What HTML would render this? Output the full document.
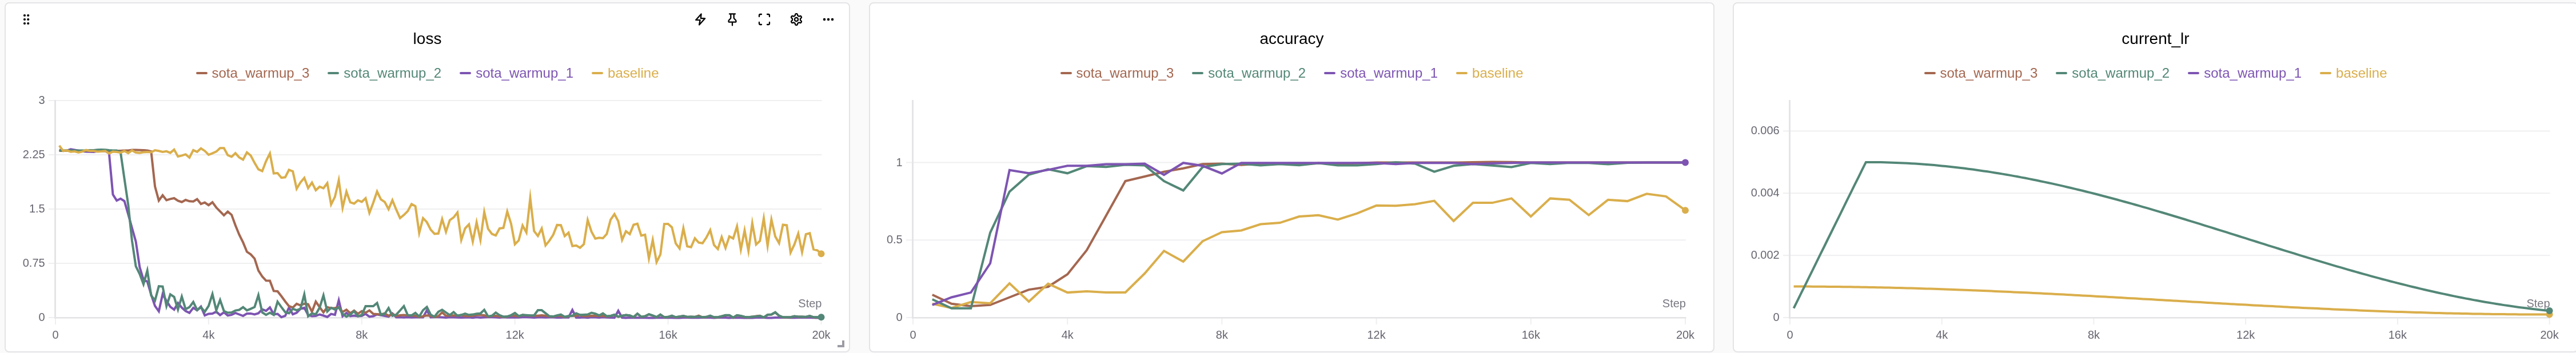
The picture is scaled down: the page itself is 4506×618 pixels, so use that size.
<!DOCTYPE html>
<html><head><meta charset="utf-8"><title>charts</title>
<style>
html,body{margin:0;padding:0}
body{width:4506px;height:618px;overflow:hidden;background:#fafafa;position:relative;font-family:"Liberation Sans",Arial,Helvetica,sans-serif}
.panel{will-change:transform;position:absolute;top:4px;width:1479px;height:613px;box-sizing:border-box;border:2px solid #e4e4e7;border-radius:8px;background:#fff}
.title{position:absolute;left:0;right:0;top:45px;height:34px;line-height:34px;text-align:center;font-size:28px;color:#000}
.legend{position:absolute;left:0;right:0;top:106px;height:32px;display:flex;justify-content:center;align-items:center;font-size:24px;line-height:32px;white-space:nowrap}
.li{display:inline-flex;align-items:center;margin:0 16.05px}
.li i{display:inline-block;width:20px;height:4px;border-radius:2px;margin-right:8px}
svg.ch{position:absolute;left:0;top:0;overflow:visible}
.tk{font-family:"Liberation Sans",Arial,Helvetica,sans-serif;font-size:20px;fill:#666671}
.st{fill:#777781}
svg.ov{position:absolute;left:0;top:0;will-change:transform}
</style></head><body>
<div class="panel" style="left:8px">
<div class="title">loss</div>
<div class="legend"><span class="li" style="color:#A46750"><i style="background:#A46750"></i>sota_warmup_3</span><span class="li" style="color:#538777"><i style="background:#538777"></i>sota_warmup_2</span><span class="li" style="color:#7D54B2"><i style="background:#7D54B2"></i>sota_warmup_1</span><span class="li" style="color:#DAAE4B"><i style="background:#DAAE4B"></i>baseline</span></div>
</div>
<div class="panel" style="left:1519.5px">
<div class="title">accuracy</div>
<div class="legend"><span class="li" style="color:#A46750"><i style="background:#A46750"></i>sota_warmup_3</span><span class="li" style="color:#538777"><i style="background:#538777"></i>sota_warmup_2</span><span class="li" style="color:#7D54B2"><i style="background:#7D54B2"></i>sota_warmup_1</span><span class="li" style="color:#DAAE4B"><i style="background:#DAAE4B"></i>baseline</span></div>
</div>
<div class="panel" style="left:3031px">
<div class="title">current_lr</div>
<div class="legend"><span class="li" style="color:#A46750"><i style="background:#A46750"></i>sota_warmup_3</span><span class="li" style="color:#538777"><i style="background:#538777"></i>sota_warmup_2</span><span class="li" style="color:#7D54B2"><i style="background:#7D54B2"></i>sota_warmup_1</span><span class="li" style="color:#DAAE4B"><i style="background:#DAAE4B"></i>baseline</span></div>
</div>
<svg class="ov" width="4506" height="618" viewBox="0 0 4506 618">
<rect x="85.0" y="175.0" width="1352.5" height="2" fill="#efeff1"/>
<text x="78.7" y="182.0" text-anchor="end" class="tk">3</text>
<rect x="85.0" y="270.0" width="1352.5" height="2" fill="#efeff1"/>
<text x="78.7" y="277.0" text-anchor="end" class="tk">2.25</text>
<rect x="85.0" y="365.0" width="1352.5" height="2" fill="#efeff1"/>
<text x="78.7" y="372.0" text-anchor="end" class="tk">1.5</text>
<rect x="85.0" y="460.0" width="1352.5" height="2" fill="#efeff1"/>
<text x="78.7" y="467.0" text-anchor="end" class="tk">0.75</text>
<rect x="85.0" y="555.0" width="12" height="2" fill="#efeff1"/>
<text x="78.7" y="562.0" text-anchor="end" class="tk">0</text>
<rect x="96.00" y="556" width="2" height="12" fill="#efeff1"/>
<text x="97.00" y="593" text-anchor="middle" class="tk">0</text>
<rect x="363.90" y="556" width="2" height="12" fill="#efeff1"/>
<text x="364.90" y="593" text-anchor="middle" class="tk">4k</text>
<rect x="631.80" y="556" width="2" height="12" fill="#efeff1"/>
<text x="632.80" y="593" text-anchor="middle" class="tk">8k</text>
<rect x="899.70" y="556" width="2" height="12" fill="#efeff1"/>
<text x="900.70" y="593" text-anchor="middle" class="tk">12k</text>
<rect x="1167.60" y="556" width="2" height="12" fill="#efeff1"/>
<text x="1168.60" y="593" text-anchor="middle" class="tk">16k</text>
<rect x="1435.50" y="556" width="2" height="12" fill="#efeff1"/>
<text x="1436.50" y="593" text-anchor="middle" class="tk">20k</text>
<rect x="95.1" y="175" width="2.9" height="382.6" fill="#e4e4e7"/>
<rect x="95.1" y="555" width="1342.9" height="2.6" fill="#e4e4e7"/>
<text x="1437.5" y="538" text-anchor="end" class="tk st">Step</text>
<path d="M103.7 262.5 L110.4 264.2 L117.1 263.6 L123.8 261.3 L130.5 262.5 L137.2 263.6 L143.9 264.8 L150.6 265.4 L157.3 265.7 L164.0 266.0 L170.7 264.8 L177.4 264.6 L184.1 264.3 L190.8 268.3 L197.5 340.7 L204.2 351.2 L210.9 347.8 L217.6 352.0 L224.3 375.2 L230.9 399.0 L237.6 422.8 L244.3 467.6 L251.0 489.9 L257.7 493.0 L264.4 515.8 L271.1 535.6 L277.8 544.9 L284.5 515.0 L291.2 526.7 L297.9 537.2 L304.6 542.1 L311.3 530.4 L318.0 538.6 L324.7 544.5 L331.4 547.7 L338.1 538.9 L344.8 543.3 L351.5 536.8 L358.2 552.2 L364.9 549.5 L371.6 549.1 L378.3 545.7 L385.0 551.6 L391.7 546.8 L398.4 552.4 L405.1 551.1 L411.8 548.0 L418.5 550.5 L425.2 553.0 L431.9 549.1 L438.6 548.9 L445.3 550.5 L452.0 548.5 L458.7 541.7 L465.4 544.2 L472.1 538.2 L478.8 550.3 L485.5 549.6 L492.2 555.3 L498.9 553.0 L505.5 538.5 L512.2 550.2 L518.9 547.5 L525.6 540.6 L532.3 538.8 L539.0 551.4 L545.7 553.5 L552.4 553.1 L559.1 550.5 L565.8 552.5 L572.5 554.9 L579.2 549.6 L585.9 551.2 L592.6 525.7 L599.3 553.6 L606.0 547.8 L612.7 553.4 L619.4 552.5 L626.1 553.5 L632.8 553.1 L639.5 549.6 L646.2 554.4 L652.9 553.5 L659.6 550.5 L666.3 551.9 L673.0 553.1 L679.7 554.4 L686.4 548.7 L693.1 555.4 L699.8 555.3 L706.5 555.8 L713.2 555.2 L719.9 555.7 L726.6 555.5 L733.3 555.2 L740.0 555.5 L746.7 543.3 L753.4 555.5 L760.1 555.2 L766.8 555.2 L773.4 555.6 L780.1 556.0 L786.8 555.3 L793.5 555.4 L800.2 555.8 L806.9 556.1 L813.6 555.7 L820.3 555.6 L827.0 556.2 L833.7 555.2 L840.4 556.0 L847.1 555.4 L853.8 555.3 L860.5 555.3 L867.2 555.5 L873.9 556.0 L880.6 555.3 L887.3 555.8 L894.0 555.8 L900.7 555.5 L907.4 555.7 L914.1 555.2 L920.8 555.2 L927.5 555.4 L934.2 555.9 L940.9 555.6 L947.6 555.5 L954.3 555.8 L961.0 555.6 L967.7 555.5 L974.4 556.0 L981.1 555.9 L987.8 555.4 L994.5 555.6 L1001.2 542.6 L1007.9 555.9 L1014.6 555.9 L1021.3 555.4 L1028.0 556.2 L1034.7 555.3 L1041.3 555.6 L1048.0 555.9 L1054.7 555.3 L1061.4 555.7 L1068.1 555.9 L1074.8 556.2 L1081.5 544.2 L1088.2 556.1 L1094.9 556.5 L1101.6 556.1 L1108.3 556.3 L1115.0 556.3 L1121.7 556.2 L1128.4 556.2 L1135.1 556.4 L1141.8 556.5 L1148.5 556.2 L1155.2 556.3 L1161.9 555.9 L1168.6 556.3 L1175.3 556.3 L1182.0 556.5 L1188.7 556.4 L1195.4 556.0 L1202.1 556.1 L1208.8 556.3 L1215.5 555.9 L1222.2 556.2 L1228.9 556.0 L1235.6 555.9 L1242.3 555.9 L1249.0 556.4 L1255.7 555.9 L1262.4 556.0 L1269.1 556.1 L1275.8 556.5 L1282.5 555.9 L1289.2 556.2 L1295.9 556.2 L1302.5 556.5 L1309.2 556.4 L1315.9 556.4 L1322.6 556.0 L1329.3 556.1 L1336.0 556.1 L1342.7 556.5 L1349.4 556.5 L1356.1 555.9 L1362.8 556.0 L1369.5 556.0 L1376.2 556.0 L1382.9 556.2 L1389.6 556.3 L1396.3 556.0 L1403.0 555.8 L1409.7 556.1 L1416.4 556.1 L1423.1 556.2 L1429.8 556.5 L1436.5 556.3" fill="none" stroke="#7D54B2" stroke-width="4" stroke-linejoin="miter" stroke-miterlimit="20"/>
<path d="M103.7 263.9 L110.4 263.9 L117.1 263.9 L123.8 263.9 L130.5 263.9 L137.2 263.9 L143.9 263.9 L150.6 263.9 L157.3 263.9 L164.0 263.9 L170.7 263.9 L177.4 263.9 L184.1 263.9 L190.8 263.9 L197.5 263.9 L204.2 263.9 L210.9 263.9 L217.6 263.5 L224.3 263.5 L230.9 262.5 L237.6 262.5 L244.3 262.7 L251.0 263.1 L257.7 263.4 L264.4 265.2 L271.1 326.4 L277.8 351.2 L284.5 341.8 L291.2 350.5 L297.9 348.4 L304.6 347.0 L311.3 351.4 L318.0 353.7 L324.7 350.0 L331.4 352.3 L338.1 352.8 L344.8 348.7 L351.5 357.1 L358.2 354.5 L364.9 359.2 L371.6 354.1 L378.3 363.3 L385.0 370.1 L391.7 376.9 L398.4 370.4 L405.1 376.1 L411.8 394.5 L418.5 410.9 L425.2 424.4 L431.9 440.8 L438.6 445.3 L445.3 452.7 L452.0 473.6 L458.7 484.0 L465.4 491.3 L472.1 491.5 L478.8 509.4 L485.5 509.9 L492.2 518.5 L498.9 527.7 L505.5 536.0 L512.2 538.4 L518.9 531.8 L525.6 534.6 L532.3 531.7 L539.0 532.7 L545.7 545.8 L552.4 528.0 L559.1 537.6 L565.8 546.8 L572.5 537.8 L579.2 539.6 L585.9 539.2 L592.6 537.7 L599.3 546.2 L606.0 542.2 L612.7 548.3 L619.4 543.8 L626.1 549.3 L632.8 544.7 L639.5 547.4 L646.2 543.4 L652.9 549.5 L659.6 549.9 L666.3 550.5 L673.0 548.6 L679.7 552.9 L686.4 549.6 L693.1 553.2 L699.8 552.0 L706.5 551.6 L713.2 552.2 L719.9 552.5 L726.6 552.7 L733.3 555.1 L740.0 553.6 L746.7 552.3 L753.4 552.7 L760.1 555.1 L766.8 553.5 L773.4 546.9 L780.1 553.0 L786.8 552.2 L793.5 552.3 L800.2 552.7 L806.9 551.6 L813.6 553.3 L820.3 553.2 L827.0 552.7 L833.7 551.6 L840.4 551.6 L847.1 552.0 L853.8 554.4 L860.5 553.0 L867.2 553.0 L873.9 553.7 L880.6 554.8 L887.3 554.4 L894.0 552.2 L900.7 552.7 L907.4 553.9 L914.1 551.6 L920.8 552.2 L927.5 552.7 L934.2 552.7 L940.9 552.7 L947.6 552.0 L954.3 552.8 L961.0 553.9 L967.7 554.4 L974.4 552.7 L981.1 553.1 L987.8 555.1 L994.5 553.6 L1001.2 553.0 L1007.9 552.7 L1014.6 551.6 L1021.3 553.6 L1028.0 553.3 L1034.7 552.8 L1041.3 552.9 L1048.0 552.7 L1054.7 553.0 L1061.4 553.9 L1068.1 553.2 L1074.8 551.2 L1081.5 554.6 L1088.2 552.9 L1094.9 551.6 L1101.6 552.5 L1108.3 555.3 L1115.0 549.3 L1121.7 554.9 L1128.4 553.7 L1135.1 550.3 L1141.8 552.5 L1148.5 555.4 L1155.2 550.9 L1161.9 555.4 L1168.6 555.0 L1175.3 552.9 L1182.0 555.5 L1188.7 554.3 L1195.4 553.2 L1202.1 555.0 L1208.8 554.6 L1215.5 554.9 L1222.2 552.7 L1228.9 555.5 L1235.6 555.0 L1242.3 552.9 L1249.0 555.5 L1255.7 555.5 L1262.4 553.7 L1269.1 552.0 L1275.8 552.0 L1282.5 556.2 L1289.2 552.0 L1295.9 553.2 L1302.5 555.0 L1309.2 555.5 L1315.9 554.6 L1322.6 553.4 L1329.3 552.7 L1336.0 555.9 L1342.7 551.1 L1349.4 550.7 L1356.1 546.9 L1362.8 552.8 L1369.5 555.5 L1376.2 555.5 L1382.9 555.5 L1389.6 553.7 L1396.3 554.6 L1403.0 554.6 L1409.7 555.0 L1416.4 553.2 L1423.1 555.5 L1429.8 555.5 L1436.5 555.5" fill="none" stroke="#A46750" stroke-width="4" stroke-linejoin="miter" stroke-miterlimit="20"/>
<path d="M103.7 263.6 L110.4 263.6 L117.1 263.4 L123.8 263.4 L130.5 263.6 L137.2 263.4 L143.9 263.4 L150.6 263.6 L157.3 263.1 L164.0 263.0 L170.7 262.2 L177.4 261.9 L184.1 262.2 L190.8 263.1 L197.5 263.4 L204.2 263.6 L210.9 266.6 L217.6 313.0 L224.3 358.8 L230.9 421.3 L237.6 466.1 L244.3 479.5 L251.0 497.5 L257.7 473.6 L264.4 517.2 L271.1 526.2 L277.8 501.1 L284.5 501.7 L291.2 535.9 L297.9 515.4 L304.6 519.8 L311.3 542.0 L318.0 519.3 L324.7 541.4 L331.4 537.6 L338.1 528.7 L344.8 542.7 L351.5 537.9 L358.2 545.9 L364.9 535.6 L371.6 514.8 L378.3 543.3 L385.0 525.1 L391.7 544.5 L398.4 547.5 L405.1 547.1 L411.8 543.6 L418.5 542.5 L425.2 537.8 L431.9 543.4 L438.6 540.6 L445.3 537.6 L452.0 516.7 L458.7 547.0 L465.4 551.2 L472.1 547.6 L478.8 551.3 L485.5 528.2 L492.2 537.6 L498.9 546.5 L505.5 548.4 L512.2 540.7 L518.9 543.1 L525.6 540.5 L532.3 515.3 L539.0 553.6 L545.7 548.6 L552.4 550.3 L559.1 538.6 L565.8 517.1 L572.5 545.4 L579.2 538.8 L585.9 541.9 L592.6 538.0 L599.3 549.5 L606.0 554.3 L612.7 550.5 L619.4 545.0 L626.1 553.7 L632.8 551.4 L639.5 536.1 L646.2 536.0 L652.9 536.0 L659.6 530.4 L666.3 551.2 L673.0 549.5 L679.7 539.3 L686.4 552.8 L693.1 550.9 L699.8 543.5 L706.5 536.0 L713.2 551.7 L719.9 552.1 L726.6 547.7 L733.3 554.2 L740.0 543.0 L746.7 537.5 L753.4 550.9 L760.1 554.5 L766.8 545.7 L773.4 542.3 L780.1 547.1 L786.8 551.6 L793.5 546.3 L800.2 552.6 L806.9 551.3 L813.6 549.2 L820.3 551.3 L827.0 550.6 L833.7 549.2 L840.4 548.8 L847.1 542.4 L853.8 553.9 L860.5 552.7 L867.2 547.3 L873.9 551.8 L880.6 554.4 L887.3 554.1 L894.0 551.8 L900.7 547.9 L907.4 553.4 L914.1 551.3 L920.8 551.8 L927.5 552.3 L934.2 552.2 L940.9 543.1 L947.6 543.1 L954.3 548.3 L961.0 553.5 L967.7 554.1 L974.4 552.3 L981.1 550.6 L987.8 554.7 L994.5 553.2 L1001.2 552.7 L1007.9 548.4 L1014.6 551.3 L1021.3 550.9 L1028.0 550.6 L1034.7 547.5 L1041.3 549.2 L1048.0 552.2 L1054.7 548.5 L1061.4 553.5 L1068.1 553.0 L1074.8 551.0 L1081.5 554.4 L1088.2 552.7 L1094.9 551.5 L1101.6 552.3 L1108.3 555.2 L1115.0 549.1 L1121.7 554.7 L1128.4 553.5 L1135.1 550.1 L1141.8 552.3 L1148.5 555.2 L1155.2 550.7 L1161.9 555.3 L1168.6 554.8 L1175.3 552.7 L1182.0 555.3 L1188.7 554.1 L1195.4 553.0 L1202.1 554.8 L1208.8 554.4 L1215.5 554.8 L1222.2 554.1 L1228.9 555.3 L1235.6 554.8 L1242.3 552.7 L1249.0 555.3 L1255.7 555.3 L1262.4 553.6 L1269.1 551.8 L1275.8 551.8 L1282.5 556.0 L1289.2 551.9 L1295.9 553.0 L1302.5 554.8 L1309.2 555.3 L1315.9 554.4 L1322.6 554.1 L1329.3 553.1 L1336.0 555.7 L1342.7 551.0 L1349.4 550.6 L1356.1 546.7 L1362.8 552.7 L1369.5 555.3 L1376.2 555.3 L1382.9 555.3 L1389.6 553.6 L1396.3 554.4 L1403.0 554.4 L1409.7 554.8 L1416.4 553.1 L1423.1 555.3 L1429.8 555.3 L1436.5 555.3" fill="none" stroke="#538777" stroke-width="4" stroke-linejoin="miter" stroke-miterlimit="20"/>
<path d="M103.7 254.9 L110.4 264.1 L117.1 263.4 L123.8 265.7 L130.5 265.0 L137.2 266.9 L143.9 265.4 L150.6 262.7 L157.3 264.2 L164.0 264.2 L170.7 265.4 L177.4 265.0 L184.1 264.3 L190.8 268.7 L197.5 265.4 L204.2 266.0 L210.9 267.1 L217.6 264.3 L224.3 268.1 L230.9 263.2 L237.6 267.1 L244.3 267.7 L251.0 266.5 L257.7 266.0 L264.4 266.5 L271.1 263.1 L277.8 264.2 L284.5 265.9 L291.2 264.8 L297.9 267.6 L304.6 261.9 L311.3 273.9 L318.0 272.4 L324.7 270.2 L331.4 275.9 L338.1 262.8 L344.8 265.8 L351.5 259.8 L358.2 264.2 L364.9 271.0 L371.6 268.3 L378.3 265.4 L385.0 259.3 L391.7 259.3 L398.4 271.7 L405.1 274.5 L411.8 268.2 L418.5 275.6 L425.2 279.4 L431.9 266.9 L438.6 272.3 L445.3 285.1 L452.0 296.4 L458.7 299.6 L465.4 282.1 L472.1 268.6 L478.8 303.6 L485.5 303.0 L492.2 311.2 L498.9 310.3 L505.5 297.3 L512.2 300.0 L518.9 330.5 L525.6 319.3 L532.3 311.4 L539.0 329.3 L545.7 319.7 L552.4 333.0 L559.1 326.9 L565.8 329.5 L572.5 320.7 L579.2 358.0 L585.9 344.6 L592.6 315.6 L599.3 363.7 L606.0 335.5 L612.7 354.1 L619.4 356.4 L626.1 350.7 L632.8 353.4 L639.5 347.1 L646.2 372.6 L652.9 355.0 L659.6 335.3 L666.3 349.1 L673.0 353.6 L679.7 366.3 L686.4 350.5 L693.1 366.9 L699.8 381.8 L706.5 376.3 L713.2 369.6 L719.9 357.2 L726.6 361.1 L733.3 407.8 L740.0 381.9 L746.7 389.0 L753.4 402.1 L760.1 409.4 L766.8 408.8 L773.4 383.6 L780.1 405.8 L786.8 385.4 L793.5 380.6 L800.2 371.9 L806.9 420.0 L813.6 399.8 L820.3 392.8 L827.0 422.9 L833.7 389.3 L840.4 420.0 L847.1 371.1 L853.8 400.6 L860.5 409.5 L867.2 412.2 L873.9 399.9 L880.6 398.9 L887.3 370.3 L894.0 391.7 L900.7 427.6 L907.4 420.8 L914.1 394.8 L920.8 407.0 L927.5 346.8 L934.2 404.4 L940.9 413.1 L947.6 400.1 L954.3 429.5 L961.0 421.4 L967.7 411.0 L974.4 393.9 L981.1 394.2 L987.8 413.2 L994.5 407.4 L1001.2 430.7 L1007.9 429.8 L1014.6 433.7 L1021.3 427.5 L1028.0 385.3 L1034.7 405.6 L1041.3 417.8 L1048.0 416.2 L1054.7 417.0 L1061.4 409.6 L1068.1 384.5 L1074.8 374.9 L1081.5 387.4 L1088.2 420.0 L1094.9 404.9 L1101.6 409.8 L1108.3 393.5 L1115.0 391.6 L1121.7 412.5 L1128.4 411.0 L1135.1 452.5 L1141.8 420.2 L1148.5 458.9 L1155.2 445.5 L1161.9 392.1 L1168.6 392.0 L1175.3 397.9 L1182.0 426.1 L1188.7 434.9 L1195.4 399.6 L1202.1 431.3 L1208.8 432.7 L1215.5 417.1 L1222.2 424.7 L1228.9 425.8 L1235.6 415.8 L1242.3 402.9 L1249.0 428.9 L1255.7 436.0 L1262.4 415.0 L1269.1 434.0 L1275.8 413.9 L1282.5 417.6 L1289.2 396.4 L1295.9 436.8 L1302.5 403.3 L1309.2 439.3 L1315.9 390.7 L1322.6 428.1 L1329.3 421.8 L1336.0 382.3 L1342.7 430.4 L1349.4 384.4 L1356.1 414.1 L1362.8 425.8 L1369.5 393.5 L1376.2 394.4 L1382.9 442.1 L1389.6 427.9 L1396.3 408.9 L1403.0 441.3 L1409.7 410.1 L1416.4 408.3 L1423.1 436.7 L1429.8 438.3 L1436.5 444.3" fill="none" stroke="#DAAE4B" stroke-width="4" stroke-linejoin="miter" stroke-miterlimit="20"/>
<circle cx="1436.5" cy="444.3" r="6" fill="#DAAE4B"/>
<circle cx="1436.5" cy="555.3" r="6" fill="#538777"/>
<g fill="#000">
<circle cx="43" cy="27" r="2.1"/><circle cx="49.2" cy="27" r="2.1"/>
<circle cx="43" cy="34" r="2.1"/><circle cx="49.2" cy="34" r="2.1"/>
<circle cx="43" cy="41" r="2.1"/><circle cx="49.2" cy="41" r="2.1"/>
<circle cx="1442" cy="34" r="2.25"/><circle cx="1449" cy="34" r="2.25"/><circle cx="1456" cy="34" r="2.25"/>
</g>
<g fill="none" stroke="#000" stroke-width="2.3" stroke-linejoin="round" stroke-linecap="round">
<path d="M1226.6 24.4 L1217.2 34.9 L1224.6 35.2 L1223.1 43.4 L1233.2 32.3 L1225.8 32 Z"/>
<path d="M1276 24.4 H1286 M1278.3 24.5 V31.5 C1278.3 33.5 1274.4 34.5 1274.4 37 Q1274.4 38.7 1276.1 38.7 H1285.9 Q1287.6 38.7 1287.6 37 C1287.6 34.5 1283.7 33.5 1283.7 31.5 V24.5 M1281 38.7 V44.4"/>
<path d="M1328 29 V27 a2 2 0 0 1 2 -2 H1332 M1342 25 H1344 a2 2 0 0 1 2 2 V29 M1346 39 V41 a2 2 0 0 1 -2 2 H1342 M1332 43 H1330 a2 2 0 0 1 -2 -2 V39"/>
<circle cx="1393" cy="34" r="3.1"/>
<path d="M1400.00 34.00 L1400.00 34.18 L1399.99 34.37 L1399.98 34.55 L1399.96 34.73 L1399.94 34.91 L1399.95 35.10 L1400.04 35.30 L1400.23 35.54 L1400.51 35.80 L1400.85 36.10 L1401.20 36.43 L1401.52 36.77 L1401.76 37.10 L1401.91 37.42 L1401.96 37.71 L1401.93 37.98 L1401.85 38.22 L1401.73 38.45 L1401.61 38.68 L1401.49 38.90 L1401.36 39.12 L1401.22 39.34 L1401.08 39.55 L1400.91 39.75 L1400.70 39.91 L1400.42 40.01 L1400.07 40.04 L1399.66 39.99 L1399.21 39.89 L1398.75 39.75 L1398.32 39.60 L1397.95 39.49 L1397.65 39.44 L1397.43 39.47 L1397.26 39.55 L1397.11 39.66 L1396.96 39.77 L1396.81 39.87 L1396.66 39.97 L1396.50 40.06 L1396.34 40.15 L1396.18 40.24 L1396.01 40.32 L1395.85 40.39 L1395.68 40.47 L1395.52 40.57 L1395.39 40.75 L1395.28 41.03 L1395.19 41.41 L1395.10 41.85 L1395.00 42.32 L1394.86 42.76 L1394.69 43.14 L1394.49 43.43 L1394.27 43.62 L1394.02 43.72 L1393.77 43.77 L1393.51 43.79 L1393.26 43.80 L1393.00 43.80 L1392.74 43.80 L1392.49 43.79 L1392.23 43.77 L1391.98 43.72 L1391.73 43.62 L1391.51 43.43 L1391.31 43.14 L1391.14 42.76 L1391.00 42.32 L1390.90 41.85 L1390.81 41.41 L1390.72 41.03 L1390.61 40.75 L1390.48 40.57 L1390.32 40.47 L1390.15 40.39 L1389.99 40.32 L1389.82 40.24 L1389.66 40.15 L1389.50 40.06 L1389.34 39.97 L1389.19 39.87 L1389.04 39.77 L1388.89 39.66 L1388.74 39.55 L1388.57 39.47 L1388.35 39.44 L1388.05 39.49 L1387.68 39.60 L1387.25 39.75 L1386.79 39.89 L1386.34 39.99 L1385.93 40.04 L1385.58 40.01 L1385.30 39.91 L1385.09 39.75 L1384.92 39.55 L1384.78 39.34 L1384.64 39.12 L1384.51 38.90 L1384.39 38.68 L1384.27 38.45 L1384.15 38.22 L1384.07 37.98 L1384.04 37.71 L1384.09 37.42 L1384.24 37.10 L1384.48 36.77 L1384.80 36.43 L1385.15 36.10 L1385.49 35.80 L1385.77 35.54 L1385.96 35.30 L1386.05 35.10 L1386.06 34.91 L1386.04 34.73 L1386.02 34.55 L1386.01 34.37 L1386.00 34.18 L1386.00 34.00 L1386.00 33.82 L1386.01 33.63 L1386.02 33.45 L1386.04 33.27 L1386.06 33.09 L1386.05 32.90 L1385.96 32.70 L1385.77 32.46 L1385.49 32.20 L1385.15 31.90 L1384.80 31.57 L1384.48 31.23 L1384.24 30.90 L1384.09 30.58 L1384.04 30.29 L1384.07 30.02 L1384.15 29.78 L1384.27 29.55 L1384.39 29.32 L1384.51 29.10 L1384.64 28.88 L1384.78 28.66 L1384.92 28.45 L1385.09 28.25 L1385.30 28.09 L1385.58 27.99 L1385.93 27.96 L1386.34 28.01 L1386.79 28.11 L1387.25 28.25 L1387.68 28.40 L1388.05 28.51 L1388.35 28.56 L1388.57 28.53 L1388.74 28.45 L1388.89 28.34 L1389.04 28.23 L1389.19 28.13 L1389.34 28.03 L1389.50 27.94 L1389.66 27.85 L1389.82 27.76 L1389.99 27.68 L1390.15 27.61 L1390.32 27.53 L1390.48 27.43 L1390.61 27.25 L1390.72 26.97 L1390.81 26.59 L1390.90 26.15 L1391.00 25.68 L1391.14 25.24 L1391.31 24.86 L1391.51 24.57 L1391.73 24.38 L1391.98 24.28 L1392.23 24.23 L1392.49 24.21 L1392.74 24.20 L1393.00 24.20 L1393.26 24.20 L1393.51 24.21 L1393.77 24.23 L1394.02 24.28 L1394.27 24.38 L1394.49 24.57 L1394.69 24.86 L1394.86 25.24 L1395.00 25.68 L1395.10 26.15 L1395.19 26.59 L1395.28 26.97 L1395.39 27.25 L1395.52 27.43 L1395.68 27.53 L1395.85 27.61 L1396.01 27.68 L1396.18 27.76 L1396.34 27.85 L1396.50 27.94 L1396.66 28.03 L1396.81 28.13 L1396.96 28.23 L1397.11 28.34 L1397.26 28.45 L1397.43 28.53 L1397.65 28.56 L1397.95 28.51 L1398.32 28.40 L1398.75 28.25 L1399.21 28.11 L1399.66 28.01 L1400.07 27.96 L1400.42 27.99 L1400.70 28.09 L1400.91 28.25 L1401.08 28.45 L1401.22 28.66 L1401.36 28.88 L1401.49 29.10 L1401.61 29.32 L1401.73 29.55 L1401.85 29.78 L1401.93 30.02 L1401.96 30.29 L1401.91 30.58 L1401.76 30.90 L1401.52 31.23 L1401.20 31.57 L1400.85 31.90 L1400.51 32.20 L1400.23 32.46 L1400.04 32.70 L1399.95 32.90 L1399.94 33.09 L1399.96 33.27 L1399.98 33.45 L1399.99 33.63 L1400.00 33.82 Z"/>
</g>
<g fill="none" stroke="#9c9ca4" stroke-width="4"><path d="M1475 596 V606 H1465"/></g>

</svg>
<svg class="ov" width="4506" height="618" viewBox="0 0 4506 618">
<rect x="1585.0" y="283.5" width="1364.0" height="2" fill="#efeff1"/>
<text x="1578.7" y="290.5" text-anchor="end" class="tk">1</text>
<rect x="1585.0" y="419.25" width="1364.0" height="2" fill="#efeff1"/>
<text x="1578.7" y="426.25" text-anchor="end" class="tk">0.5</text>
<rect x="1585.0" y="555.0" width="12" height="2" fill="#efeff1"/>
<text x="1578.7" y="562.0" text-anchor="end" class="tk">0</text>
<rect x="1596.00" y="556" width="2" height="12" fill="#efeff1"/>
<text x="1597.00" y="593" text-anchor="middle" class="tk">0</text>
<rect x="1866.20" y="556" width="2" height="12" fill="#efeff1"/>
<text x="1867.20" y="593" text-anchor="middle" class="tk">4k</text>
<rect x="2136.40" y="556" width="2" height="12" fill="#efeff1"/>
<text x="2137.40" y="593" text-anchor="middle" class="tk">8k</text>
<rect x="2406.60" y="556" width="2" height="12" fill="#efeff1"/>
<text x="2407.60" y="593" text-anchor="middle" class="tk">12k</text>
<rect x="2676.80" y="556" width="2" height="12" fill="#efeff1"/>
<text x="2677.80" y="593" text-anchor="middle" class="tk">16k</text>
<rect x="2947.00" y="556" width="2" height="12" fill="#efeff1"/>
<text x="2948.00" y="593" text-anchor="middle" class="tk">20k</text>
<rect x="1595.1" y="175" width="2.9" height="382.6" fill="#e4e4e7"/>
<rect x="1595.1" y="555" width="1354.4" height="2.6" fill="#e4e4e7"/>
<text x="2949.0" y="538" text-anchor="end" class="tk st">Step</text>
<path d="M1630.8 516.0 L1664.5 531.8 L1698.3 535.9 L1732.1 533.8 L1765.9 520.5 L1799.7 507.1 L1833.4 502.0 L1867.2 480.3 L1901.0 437.9 L1934.8 377.6 L1968.5 317.1 L2002.3 309.0 L2036.1 300.7 L2069.8 294.8 L2103.6 287.3 L2137.4 286.4 L2171.2 288.8 L2204.9 286.4 L2238.7 286.4 L2272.5 287.3 L2306.3 285.8 L2340.1 286.4 L2373.8 285.8 L2407.6 284.6 L2441.4 284.6 L2475.2 284.6 L2508.9 284.6 L2542.7 284.6 L2576.5 284.0 L2610.2 283.6 L2644.0 283.7 L2677.8 284.6 L2711.6 284.6 L2745.3 284.6 L2779.1 284.6 L2812.9 284.6 L2846.7 284.6 L2880.4 284.6 L2914.2 284.6 L2948.0 284.6" fill="none" stroke="#A46750" stroke-width="4" stroke-linejoin="miter" stroke-miterlimit="20"/>
<path d="M1630.8 531.8 L1664.5 539.2 L1698.3 528.8 L1732.1 530.9 L1765.9 496.1 L1799.7 527.9 L1833.4 496.7 L1867.2 512.1 L1901.0 510.0 L1934.8 512.1 L1968.5 511.9 L2002.3 478.8 L2036.1 439.3 L2069.8 458.0 L2103.6 422.3 L2137.4 406.4 L2171.2 403.5 L2204.9 392.5 L2238.7 390.1 L2272.5 379.1 L2306.3 376.7 L2340.1 384.4 L2373.8 373.7 L2407.6 359.8 L2441.4 360.3 L2475.2 357.4 L2508.9 351.6 L2542.7 386.9 L2576.5 355.1 L2610.2 355.1 L2644.0 347.4 L2677.8 378.9 L2711.6 347.4 L2745.3 349.7 L2779.1 376.5 L2812.9 349.7 L2846.7 352.1 L2880.4 339.3 L2914.2 343.8 L2948.0 368.2" fill="none" stroke="#DAAE4B" stroke-width="4" stroke-linejoin="miter" stroke-miterlimit="20"/>
<path d="M1630.8 524.0 L1664.5 539.8 L1698.3 539.8 L1732.1 407.3 L1765.9 335.5 L1799.7 305.7 L1833.4 296.2 L1867.2 303.3 L1901.0 290.8 L1934.8 292.2 L1968.5 288.5 L2002.3 289.4 L2036.1 317.1 L2069.8 333.4 L2103.6 292.4 L2137.4 287.3 L2171.2 286.4 L2204.9 289.4 L2238.7 287.3 L2272.5 289.2 L2306.3 285.5 L2340.1 289.4 L2373.8 289.4 L2407.6 287.3 L2441.4 284.3 L2475.2 286.4 L2508.9 300.7 L2542.7 290.3 L2576.5 287.3 L2610.2 289.8 L2644.0 292.4 L2677.8 285.2 L2711.6 287.3 L2745.3 284.9 L2779.1 285.2 L2812.9 287.6 L2846.7 284.9 L2880.4 284.6 L2914.2 284.6 L2948.0 284.6" fill="none" stroke="#538777" stroke-width="4" stroke-linejoin="miter" stroke-miterlimit="20"/>
<path d="M1630.8 533.8 L1664.5 520.5 L1698.3 512.1 L1732.1 461.0 L1765.9 297.7 L1799.7 303.3 L1833.4 297.4 L1867.2 290.2 L1901.0 290.2 L1934.8 287.4 L1968.5 287.4 L2002.3 286.4 L2036.1 306.1 L2069.8 285.2 L2103.6 290.3 L2137.4 303.7 L2171.2 285.2 L2204.9 285.2 L2238.7 285.2 L2272.5 285.2 L2306.3 285.2 L2340.1 285.2 L2373.8 285.2 L2407.6 285.2 L2441.4 287.3 L2475.2 285.2 L2508.9 285.2 L2542.7 285.2 L2576.5 287.3 L2610.2 286.1 L2644.0 285.2 L2677.8 284.6 L2711.6 284.6 L2745.3 284.6 L2779.1 284.6 L2812.9 284.6 L2846.7 284.6 L2880.4 284.6 L2914.2 284.6 L2948.0 284.6" fill="none" stroke="#7D54B2" stroke-width="4" stroke-linejoin="miter" stroke-miterlimit="20"/>
<circle cx="2948.0" cy="368.2" r="6" fill="#DAAE4B"/>
<circle cx="2948.0" cy="284.6" r="6" fill="#7D54B2"/>
</svg>
<svg class="ov" width="4506" height="618" viewBox="0 0 4506 618">
<rect x="3119.0" y="228.42000000000002" width="1341.6000000000004" height="2" fill="#efeff1"/>
<text x="3112.7" y="235.42000000000002" text-anchor="end" class="tk">0.006</text>
<rect x="3119.0" y="337.28" width="1341.6000000000004" height="2" fill="#efeff1"/>
<text x="3112.7" y="344.28" text-anchor="end" class="tk">0.004</text>
<rect x="3119.0" y="446.14" width="1341.6000000000004" height="2" fill="#efeff1"/>
<text x="3112.7" y="453.14" text-anchor="end" class="tk">0.002</text>
<rect x="3119.0" y="555" width="12" height="2" fill="#efeff1"/>
<text x="3112.7" y="562" text-anchor="end" class="tk">0</text>
<rect x="3130.00" y="556" width="2" height="12" fill="#efeff1"/>
<text x="3131.00" y="593" text-anchor="middle" class="tk">0</text>
<rect x="3395.72" y="556" width="2" height="12" fill="#efeff1"/>
<text x="3396.72" y="593" text-anchor="middle" class="tk">4k</text>
<rect x="3661.44" y="556" width="2" height="12" fill="#efeff1"/>
<text x="3662.44" y="593" text-anchor="middle" class="tk">8k</text>
<rect x="3927.16" y="556" width="2" height="12" fill="#efeff1"/>
<text x="3928.16" y="593" text-anchor="middle" class="tk">12k</text>
<rect x="4192.88" y="556" width="2" height="12" fill="#efeff1"/>
<text x="4193.88" y="593" text-anchor="middle" class="tk">16k</text>
<rect x="4458.60" y="556" width="2" height="12" fill="#efeff1"/>
<text x="4459.60" y="593" text-anchor="middle" class="tk">20k</text>
<rect x="3129.1" y="175" width="2.9" height="382.6" fill="#e4e4e7"/>
<rect x="3129.1" y="555" width="1332.0000000000005" height="2.6" fill="#e4e4e7"/>
<text x="4460.6" y="538" text-anchor="end" class="tk st">Step</text>
<path d="M3137.6 501.6 L3144.3 501.6 L3150.9 501.6 L3157.6 501.6 L3164.2 501.6 L3170.9 501.7 L3177.5 501.7 L3184.1 501.8 L3190.8 501.8 L3197.4 501.9 L3204.1 501.9 L3210.7 502.0 L3217.4 502.1 L3224.0 502.2 L3230.6 502.2 L3237.3 502.3 L3243.9 502.4 L3250.6 502.5 L3257.2 502.7 L3263.9 502.8 L3270.5 502.9 L3277.1 503.0 L3283.8 503.2 L3290.4 503.3 L3297.1 503.4 L3303.7 503.6 L3310.4 503.7 L3317.0 503.9 L3323.6 504.1 L3330.3 504.2 L3336.9 504.4 L3343.6 504.6 L3350.2 504.8 L3356.9 505.0 L3363.5 505.2 L3370.1 505.4 L3376.8 505.6 L3383.4 505.8 L3390.1 506.0 L3396.7 506.2 L3403.4 506.5 L3410.0 506.7 L3416.6 506.9 L3423.3 507.2 L3429.9 507.4 L3436.6 507.7 L3443.2 507.9 L3449.9 508.2 L3456.5 508.5 L3463.2 508.7 L3469.8 509.0 L3476.4 509.3 L3483.1 509.6 L3489.7 509.9 L3496.4 510.2 L3503.0 510.5 L3509.7 510.7 L3516.3 511.1 L3522.9 511.4 L3529.6 511.7 L3536.2 512.0 L3542.9 512.3 L3549.5 512.6 L3556.2 512.9 L3562.8 513.3 L3569.4 513.6 L3576.1 513.9 L3582.7 514.3 L3589.4 514.6 L3596.0 514.9 L3602.7 515.3 L3609.3 515.6 L3615.9 516.0 L3622.6 516.3 L3629.2 516.7 L3635.9 517.0 L3642.5 517.4 L3649.2 517.8 L3655.8 518.1 L3662.4 518.5 L3669.1 518.9 L3675.7 519.2 L3682.4 519.6 L3689.0 520.0 L3695.7 520.3 L3702.3 520.7 L3708.9 521.1 L3715.6 521.5 L3722.2 521.9 L3728.9 522.2 L3735.5 522.6 L3742.2 523.0 L3748.8 523.4 L3755.4 523.8 L3762.1 524.1 L3768.7 524.5 L3775.4 524.9 L3782.0 525.3 L3788.7 525.7 L3795.3 526.1 L3801.9 526.4 L3808.6 526.8 L3815.2 527.2 L3821.9 527.6 L3828.5 528.0 L3835.2 528.4 L3841.8 528.8 L3848.4 529.1 L3855.1 529.5 L3861.7 529.9 L3868.4 530.3 L3875.0 530.7 L3881.7 531.0 L3888.3 531.4 L3894.9 531.8 L3901.6 532.2 L3908.2 532.5 L3914.9 532.9 L3921.5 533.3 L3928.2 533.6 L3934.8 534.0 L3941.4 534.4 L3948.1 534.7 L3954.7 535.1 L3961.4 535.4 L3968.0 535.8 L3974.7 536.1 L3981.3 536.5 L3987.9 536.8 L3994.6 537.2 L4001.2 537.5 L4007.9 537.9 L4014.5 538.2 L4021.2 538.5 L4027.8 538.9 L4034.4 539.2 L4041.1 539.5 L4047.7 539.8 L4054.4 540.1 L4061.0 540.5 L4067.7 540.8 L4074.3 541.1 L4080.9 541.4 L4087.6 541.7 L4094.2 542.0 L4100.9 542.3 L4107.5 542.5 L4114.2 542.8 L4120.8 543.1 L4127.4 543.4 L4134.1 543.7 L4140.7 543.9 L4147.4 544.2 L4154.0 544.4 L4160.7 544.7 L4167.3 544.9 L4174.0 545.2 L4180.6 545.4 L4187.2 545.7 L4193.9 545.9 L4200.5 546.1 L4207.2 546.3 L4213.8 546.5 L4220.5 546.7 L4227.1 546.9 L4233.7 547.1 L4240.4 547.3 L4247.0 547.5 L4253.7 547.7 L4260.3 547.9 L4267.0 548.1 L4273.6 548.2 L4280.2 548.4 L4286.9 548.5 L4293.5 548.7 L4300.2 548.8 L4306.8 549.0 L4313.5 549.1 L4320.1 549.2 L4326.7 549.4 L4333.4 549.5 L4340.0 549.6 L4346.7 549.7 L4353.3 549.8 L4360.0 549.9 L4366.6 550.0 L4373.2 550.0 L4379.9 550.1 L4386.5 550.2 L4393.2 550.3 L4399.8 550.3 L4406.5 550.4 L4413.1 550.4 L4419.7 550.4 L4426.4 550.5 L4433.0 550.5 L4439.7 550.5 L4446.3 550.5 L4453.0 550.6 L4459.6 550.6" fill="none" stroke="#DAAE4B" stroke-width="4" stroke-linejoin="miter" stroke-miterlimit="20"/>
<path d="M3137.6 539.7 L3144.3 526.2 L3150.9 512.7 L3157.6 499.3 L3164.2 485.8 L3170.9 472.3 L3177.5 458.9 L3184.1 445.4 L3190.8 432.0 L3197.4 418.5 L3204.1 405.0 L3210.7 391.6 L3217.4 378.1 L3224.0 364.6 L3230.6 351.2 L3237.3 337.7 L3243.9 324.2 L3250.6 310.8 L3257.2 297.3 L3263.9 283.9 L3270.5 283.9 L3277.1 283.9 L3283.8 284.0 L3290.4 284.1 L3297.1 284.3 L3303.7 284.4 L3310.4 284.7 L3317.0 284.9 L3323.6 285.2 L3330.3 285.5 L3336.9 285.8 L3343.6 286.2 L3350.2 286.6 L3356.9 287.1 L3363.5 287.5 L3370.1 288.0 L3376.8 288.6 L3383.4 289.1 L3390.1 289.7 L3396.7 290.4 L3403.4 291.0 L3410.0 291.7 L3416.6 292.5 L3423.3 293.2 L3429.9 294.0 L3436.6 294.8 L3443.2 295.7 L3449.9 296.5 L3456.5 297.4 L3463.2 298.4 L3469.8 299.4 L3476.4 300.3 L3483.1 301.4 L3489.7 302.4 L3496.4 303.5 L3503.0 304.6 L3509.7 305.7 L3516.3 306.9 L3522.9 308.1 L3529.6 309.3 L3536.2 310.6 L3542.9 311.8 L3549.5 313.1 L3556.2 314.5 L3562.8 315.8 L3569.4 317.2 L3576.1 318.6 L3582.7 320.0 L3589.4 321.4 L3596.0 322.9 L3602.7 324.4 L3609.3 325.9 L3615.9 327.5 L3622.6 329.0 L3629.2 330.6 L3635.9 332.2 L3642.5 333.8 L3649.2 335.5 L3655.8 337.1 L3662.4 338.8 L3669.1 340.5 L3675.7 342.2 L3682.4 344.0 L3689.0 345.7 L3695.7 347.5 L3702.3 349.3 L3708.9 351.1 L3715.6 353.0 L3722.2 354.8 L3728.9 356.7 L3735.5 358.5 L3742.2 360.4 L3748.8 362.3 L3755.4 364.2 L3762.1 366.2 L3768.7 368.1 L3775.4 370.1 L3782.0 372.0 L3788.7 374.0 L3795.3 376.0 L3801.9 378.0 L3808.6 380.0 L3815.2 382.0 L3821.9 384.0 L3828.5 386.1 L3835.2 388.1 L3841.8 390.2 L3848.4 392.2 L3855.1 394.3 L3861.7 396.3 L3868.4 398.4 L3875.0 400.5 L3881.7 402.6 L3888.3 404.7 L3894.9 406.7 L3901.6 408.8 L3908.2 410.9 L3914.9 413.0 L3921.5 415.1 L3928.2 417.2 L3934.8 419.3 L3941.4 421.4 L3948.1 423.5 L3954.7 425.6 L3961.4 427.7 L3968.0 429.8 L3974.7 431.8 L3981.3 433.9 L3987.9 436.0 L3994.6 438.1 L4001.2 440.1 L4007.9 442.2 L4014.5 444.2 L4021.2 446.3 L4027.8 448.3 L4034.4 450.4 L4041.1 452.4 L4047.7 454.4 L4054.4 456.4 L4061.0 458.4 L4067.7 460.4 L4074.3 462.4 L4080.9 464.3 L4087.6 466.3 L4094.2 468.2 L4100.9 470.2 L4107.5 472.1 L4114.2 474.0 L4120.8 475.9 L4127.4 477.7 L4134.1 479.6 L4140.7 481.4 L4147.4 483.3 L4154.0 485.1 L4160.7 486.9 L4167.3 488.7 L4174.0 490.4 L4180.6 492.2 L4187.2 493.9 L4193.9 495.6 L4200.5 497.3 L4207.2 498.9 L4213.8 500.6 L4220.5 502.2 L4227.1 503.8 L4233.7 505.4 L4240.4 507.0 L4247.0 508.5 L4253.7 510.0 L4260.3 511.5 L4267.0 513.0 L4273.6 514.4 L4280.2 515.8 L4286.9 517.2 L4293.5 518.6 L4300.2 520.0 L4306.8 521.3 L4313.5 522.6 L4320.1 523.8 L4326.7 525.1 L4333.4 526.3 L4340.0 527.5 L4346.7 528.7 L4353.3 529.8 L4360.0 530.9 L4366.6 532.0 L4373.2 533.0 L4379.9 534.1 L4386.5 535.1 L4393.2 536.0 L4399.8 537.0 L4406.5 537.9 L4413.1 538.7 L4419.7 539.6 L4426.4 540.4 L4433.0 541.2 L4439.7 541.9 L4446.3 542.7 L4453.0 543.4 L4459.6 544.0" fill="none" stroke="#538777" stroke-width="4" stroke-linejoin="miter" stroke-miterlimit="20"/>
<circle cx="4459.6" cy="550.6" r="6" fill="#DAAE4B"/>
<circle cx="4459.6" cy="544.0" r="6" fill="#538777"/>
</svg>
</body></html>
